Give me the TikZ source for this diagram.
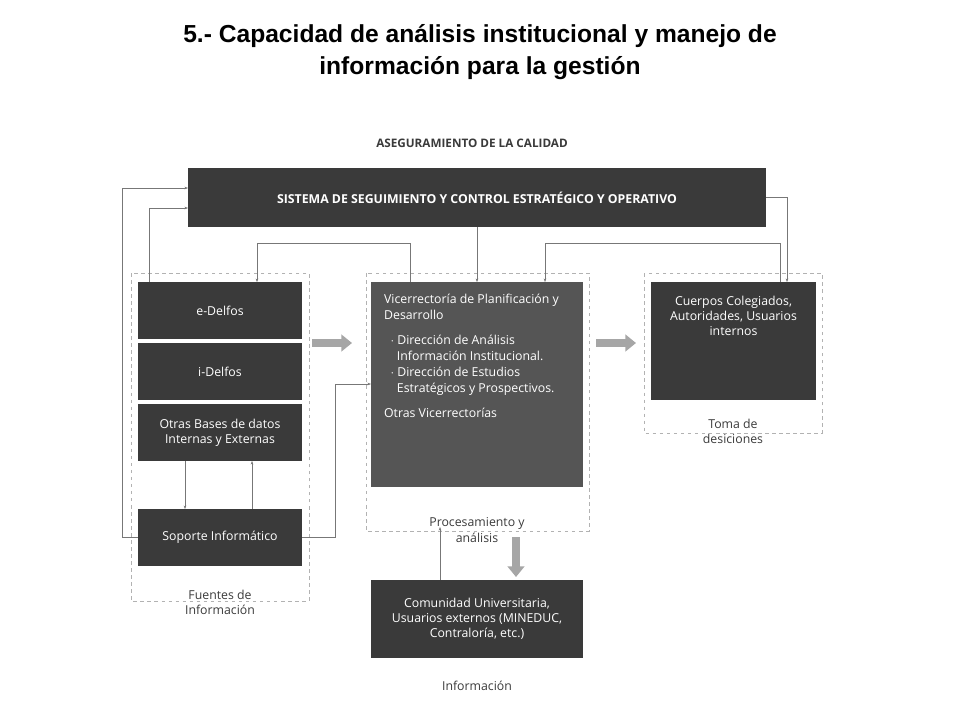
\documentclass[tikz,border=0pt]{standalone}
\usepackage{fontspec}
\setmainfont{Open Sans}
\newfontfamily\titlefont{Liberation Sans}
\usetikzlibrary{positioning,arrows.meta}
\definecolor{boxdark}{HTML}{3A3A3A}
\definecolor{boxmid}{HTML}{555555}
\definecolor{linegray}{HTML}{777777}
\begin{document}
\begin{tikzpicture}[x=0.03cm, y=-0.03cm,
  dark/.style = {fill=boxdark, text=white, font=\fontsize{10.5}{13}\selectfont, align=center},
  group/.style = {draw=gray!60, dashed, thin},
  caption/.style = {text=boxdark, font=\fontsize{10.5}{13}\selectfont, align=center},
  conn/.style = {draw=linegray, thin, -{Stealth[length=3pt]}},
  fat/.style = {draw=gray!70, line width=6pt, -{Triangle[length=9pt,width=14pt]}}]
  \useasboundingbox (0,0) rectangle (960,720);
  \node[font=\titlefont\bfseries\fontsize{21}{27}\selectfont, align=center] (title) at (480,52)
    {5.- Capacidad de análisis institucional y manejo de\\información para la gestión};
  \node[caption, font=\bfseries\fontsize{10}{12}\selectfont] (qa) at (472,143) {ASEGURAMIENTO DE LA CALIDAD};
  % groups
  \draw[group] (131,273) rectangle (309,601);
  \draw[group] (366,273) rectangle (589,531);
  \draw[group] (644,273) rectangle (822,433);
  % boxes
  \fill[boxdark] (188,168) rectangle (766,227);
  \node[text=white, font=\bfseries\fontsize{10.5}{13}\selectfont] (sist) at (477,197.5)
    {SISTEMA DE SEGUIMIENTO Y CONTROL ESTRATÉGICO Y OPERATIVO};
  \node[dark, minimum width=164*0.03cm, minimum height=57*0.03cm] (edelfos) at (220,310.5) {e-Delfos};
  \node[dark, minimum width=164*0.03cm, minimum height=57*0.03cm] (idelfos) at (220,371.5) {i-Delfos};
  \node[dark, minimum width=164*0.03cm, minimum height=57*0.03cm] (otras) at (220,432.5) {Otras Bases de datos\\Internas y Externas};
  \node[dark, minimum width=164*0.03cm, minimum height=57*0.03cm] (soporte) at (220,537.5) {Soporte Informático};
  \node[dark, fill=boxmid, minimum width=212*0.03cm, minimum height=205*0.03cm] (vice) at (477,384.5) {};
  \node[text=white, font=\fontsize{10.5}{13.5}\selectfont, align=left, anchor=north west] (vicetxt) at (380,290)
    {Vicerrectoría de Planificación y\\Desarrollo\\[8pt]
     \ \ $\cdot$ Dirección de Análisis\\
     \ \ \ \ Información Institucional.\\
     \ \ $\cdot$ Dirección de Estudios\\
     \ \ \ \ Estratégicos y Prospectivos.\\[8pt]
     Otras Vicerrectorías};
  \node[dark, minimum width=165*0.03cm, minimum height=118*0.03cm, anchor=north] (cuerpos) at (733.5,282) {};
  \node[text=white, font=\fontsize{10.5}{13}\selectfont, align=center, anchor=north] (cuerpostxt) at (733.5,292)
    {Cuerpos Colegiados,\\Autoridades, Usuarios\\internos};
  \node[dark, minimum width=212*0.03cm, minimum height=78*0.03cm] (comunidad) at (477,619)
    {Comunidad Universitaria,\\Usuarios externos (MINEDUC,\\Contraloría, etc.)};
  % captions
  \node[caption] (fuentes) at (220,602) {Fuentes de\\Información};
  \node[caption] (proc) at (477,530) {Procesamiento y\\análisis};
  \node[caption] (toma) at (733,431) {Toma de\\desiciones};
  \node[caption] (info) at (477,686) {Información};
  % fat arrows
  \draw[fat] (312,343) -- (352,343);
  \draw[fat] (596,343) -- (636,343);
  \draw[fat] (516,537) -- (516,577);
  % connectors
  \draw[conn] (soporte.west) -- (122,537.5) |- (188,188);
  \draw[conn] (149,282) |- (188,208);
  \draw[conn] (477,227) -- (477,282);
  \draw[conn] (410,282) |- (257,243) -- (257,282);
  \draw[conn] (780,282) |- (545,243) -- (545,282);
  \draw[conn] (766,197) -| (787,282);
  \draw[conn] (185,461) -- (185,509);
  \draw[conn] (252,509) -- (252,461);
  \draw[conn] (soporte.east) -| (335,384) -- (371,384);
  \draw[conn] (440,580) -- (440,527);
\end{tikzpicture}
\end{document}
